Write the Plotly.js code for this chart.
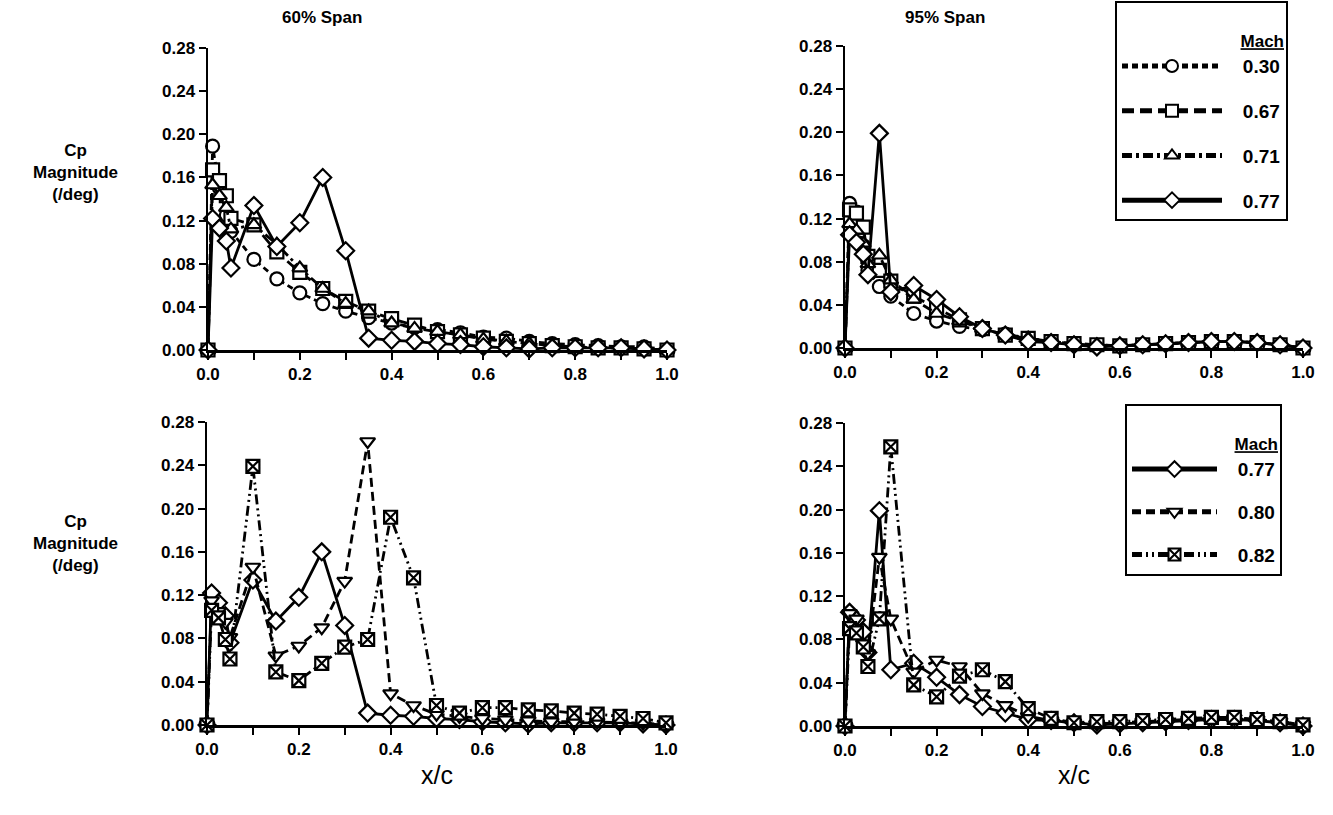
<!DOCTYPE html>
<html>
<head>
<meta charset="utf-8">
<script src="https://cdn.plot.ly/plotly-3.0.1.min.js"></script>
<style>html,body{margin:0;padding:0;background:#fff;}#chart{width:1333px;height:815px;}</style>
</head>
<body>
<div id="chart"></div>
<script>
// x/c stations
const x60 = [0, 0.01, 0.025, 0.04, 0.05, 0.1, 0.15, 0.2, 0.25, 0.3, 0.35, 0.4, 0.45, 0.5, 0.55, 0.6, 0.65, 0.7, 0.75, 0.8, 0.85, 0.9, 0.95, 1.0];
const x95 = [0, 0.01, 0.025, 0.04, 0.05, 0.075, 0.1, 0.15, 0.2, 0.25, 0.3, 0.35, 0.4, 0.45, 0.5, 0.55, 0.6, 0.65, 0.7, 0.75, 0.8, 0.85, 0.9, 0.95, 1.0];

// 60% span Cp magnitude (/deg)
const cp60_030 = [0, 0.189, 0.150, 0.125, 0.110, 0.084, 0.066, 0.053, 0.043, 0.036, 0.030, 0.025, 0.021, 0.019, 0.016, 0.012, 0.011, 0.008, 0.006, 0.005, 0.004, 0.003, 0.003, 0.000];
const cp60_067 = [0, 0.167, 0.157, 0.143, 0.122, 0.116, 0.091, 0.072, 0.057, 0.045, 0.036, 0.029, 0.023, 0.017, 0.014, 0.011, 0.008, 0.006, 0.004, 0.003, 0.002, 0.002, 0.001, 0.000];
const cp60_071 = [0, 0.153, 0.143, 0.132, 0.112, 0.116, 0.098, 0.076, 0.057, 0.043, 0.036, 0.025, 0.020, 0.017, 0.014, 0.010, 0.008, 0.006, 0.004, 0.003, 0.002, 0.002, 0.001, 0.000];
const cp60_077 = [0, 0.122, 0.113, 0.101, 0.076, 0.134, 0.096, 0.118, 0.160, 0.092, 0.011, 0.009, 0.008, 0.006, 0.005, 0.003, 0.002, 0.001, 0.002, 0.002, 0.002, 0.002, 0.001, 0.000];
const cp60_080 = [0, 0.115, 0.105, 0.095, 0.081, 0.146, 0.064, 0.073, 0.090, 0.133, 0.262, 0.029, 0.018, 0.010, 0.008, 0.006, 0.005, 0.004, 0.003, 0.003, 0.003, 0.002, 0.002, 0.000];
const cp60_082 = [0, 0.106, 0.099, 0.079, 0.061, 0.239, 0.049, 0.041, 0.057, 0.072, 0.079, 0.192, 0.136, 0.018, 0.011, 0.016, 0.016, 0.014, 0.013, 0.011, 0.010, 0.008, 0.006, 0.002];

// 95% span Cp magnitude (/deg)
const cp95_030 = [0, 0.134, 0.126, 0.095, 0.072, 0.057, 0.048, 0.032, 0.025, 0.020, 0.017, 0.013, 0.009, 0.006, 0.004, 0.002, 0.002, 0.003, 0.004, 0.005, 0.006, 0.006, 0.005, 0.003, 0.000];
const cp95_067 = [0, 0.128, 0.125, 0.112, 0.085, 0.072, 0.062, 0.048, 0.037, 0.026, 0.018, 0.012, 0.009, 0.006, 0.004, 0.003, 0.002, 0.003, 0.004, 0.005, 0.006, 0.006, 0.005, 0.003, 0.000];
const cp95_071 = [0, 0.115, 0.109, 0.097, 0.078, 0.086, 0.063, 0.045, 0.032, 0.025, 0.018, 0.012, 0.009, 0.006, 0.004, 0.003, 0.002, 0.003, 0.004, 0.005, 0.006, 0.006, 0.005, 0.003, 0.000];
const cp95_077 = [0, 0.105, 0.098, 0.087, 0.068, 0.199, 0.052, 0.058, 0.045, 0.029, 0.018, 0.012, 0.006, 0.005, 0.003, 0.001, 0.002, 0.003, 0.004, 0.005, 0.006, 0.006, 0.005, 0.003, 0.000];
const cp95_080 = [0, 0.104, 0.099, 0.076, 0.067, 0.156, 0.099, 0.050, 0.061, 0.055, 0.030, 0.019, 0.009, 0.005, 0.003, 0.002, 0.003, 0.004, 0.005, 0.006, 0.007, 0.007, 0.006, 0.004, 0.001];
const cp95_082 = [0, 0.090, 0.086, 0.073, 0.055, 0.099, 0.258, 0.038, 0.027, 0.046, 0.052, 0.041, 0.016, 0.007, 0.003, 0.004, 0.004, 0.005, 0.006, 0.007, 0.008, 0.008, 0.006, 0.004, 0.001];

const panelTitles = ["60% Span", "95% Span"];
const yTitle = "Cp<br>Magnitude<br>(/deg)";
const xTitle = "x/c";
const legendTitle = "Mach";

const FONT = "Liberation Sans, Arial, Helvetica, sans-serif";

const styles = {
  "0.30": {symbol: "circle", dash: "6px,4px"},
  "0.67": {symbol: "square", dash: "12px,6px"},
  "0.71": {symbol: "triangle-up", dash: "10px,4px,3px,4px"},
  "0.77": {symbol: "diamond", dash: "solid"},
  "0.80": {symbol: "triangle-down", dash: "9px,5px"},
  "0.82": {symbol: "square-x", dash: "10px,4px,2px,4px,2px,4px"}
};

const NB = "\u00A0";
function tr(x, y, mach, xa, ya, legend, show) {
  const s = styles[mach];
  return {
    type: "scatter", mode: "lines+markers", x: x, y: y,
    xaxis: xa, yaxis: ya, name: NB.repeat(3) + mach, legend: legend,
    legendgroup: legend + mach, showlegend: show, cliponaxis: false,
    line: {color: "#000", width: 2.8, dash: s.dash},
    marker: {symbol: s.symbol, size: 13, color: "#fff", line: {color: "#000", width: 2.2}}
  };
}

const data = [
  tr(x60, cp60_030, "0.30", "x", "y", "legend", false),
  tr(x60, cp60_067, "0.67", "x", "y", "legend", false),
  tr(x60, cp60_071, "0.71", "x", "y", "legend", false),
  tr(x60, cp60_077, "0.77", "x", "y", "legend", false),
  tr(x95, cp95_030, "0.30", "x2", "y2", "legend", true),
  tr(x95, cp95_067, "0.67", "x2", "y2", "legend", true),
  tr(x95, cp95_071, "0.71", "x2", "y2", "legend", true),
  tr(x95, cp95_077, "0.77", "x2", "y2", "legend", true),
  tr(x60, cp60_077, "0.77", "x3", "y3", "legend2", false),
  tr(x60, cp60_080, "0.80", "x3", "y3", "legend2", false),
  tr(x60, cp60_082, "0.82", "x3", "y3", "legend2", false),
  tr(x95, cp95_077, "0.77", "x4", "y4", "legend2", true),
  tr(x95, cp95_080, "0.80", "x4", "y4", "legend2", true),
  tr(x95, cp95_082, "0.82", "x4", "y4", "legend2", true)
];

const W = 1333, H = 815;
function px(a, b) { return [a / W, b / W]; }
function py(top, bottom) { return [1 - bottom / H, 1 - top / H]; }

function xax(dom, anchor) {
  return {
    domain: dom, anchor: anchor, range: [0, 1.0], dtick: 0.2, tick0: 0,
    tickformat: ".1f", showgrid: false, zeroline: false,
    showline: true, linecolor: "#000", linewidth: 2.5,
    ticks: "outside", ticklen: 7, tickwidth: 2, tickcolor: "#000",
    minor: {dtick: 0.1, ticks: "outside", ticklen: 7, tickwidth: 2, tickcolor: "#000"},
    tickfont: {family: FONT, size: 17, weight: "bold", color: "#000"}
  };
}
function yax(dom, anchor) {
  return {
    domain: dom, anchor: anchor, range: [0, 0.28], dtick: 0.04, tick0: 0,
    tickformat: ".2f", showgrid: false, zeroline: false,
    showline: true, linecolor: "#000", linewidth: 2.5,
    ticks: "outside", ticklen: 7, tickwidth: 2, tickcolor: "#000",
    tickfont: {family: FONT, size: 17, weight: "bold", color: "#000"}
  };
}

function leg(x, y, gap, iw) {
  return {
    x: x, y: y, xanchor: "left", yanchor: "top",
    bgcolor: "#fff", bordercolor: "#000", borderwidth: 2,
    font: {family: FONT, size: 19, weight: "bold", color: "#000"},
    title: {text: "<br><u>" + legendTitle + "</u>", side: "top right", font: {family: FONT, size: 17, weight: "bold"}},
    tracegroupgap: gap, itemsizing: "constant", itemwidth: iw
  };
}

const annFont = {family: FONT, size: 17, weight: "bold", color: "#000"};
const layout = {
  width: W, height: H, margin: {l: 0, r: 0, t: 0, b: 0},
  paper_bgcolor: "#fff", plot_bgcolor: "#fff",
  font: {family: FONT, color: "#000"},
  xaxis: xax(px(208, 667), "y"),
  yaxis: yax(py(48, 350), "x"),
  xaxis2: xax(px(845, 1303), "y2"),
  yaxis2: yax(py(46, 348), "x2"),
  xaxis3: xax(px(207, 666), "y3"),
  yaxis3: yax(py(422, 725), "x3"),
  xaxis4: xax(px(845, 1303), "y4"),
  yaxis4: yax(py(423, 726), "x4"),
  legend: leg(1115 / W, 1 - 1 / H, 17, 100),
  legend2: leg(1125 / W, 1 - 404 / H, 15, 85),
  annotations: [
    {text: panelTitles[0], xref: "paper", yref: "paper", x: 322 / W, y: 1 - 18 / H, showarrow: false, xanchor: "center", yanchor: "middle", font: annFont},
    {text: panelTitles[1], xref: "paper", yref: "paper", x: 945 / W, y: 1 - 18 / H, showarrow: false, xanchor: "center", yanchor: "middle", font: annFont},
    {text: yTitle, xref: "paper", yref: "paper", x: 75 / W, y: 1 - 172 / H, showarrow: false, xanchor: "center", yanchor: "middle", font: annFont},
    {text: yTitle, xref: "paper", yref: "paper", x: 75 / W, y: 1 - 543 / H, showarrow: false, xanchor: "center", yanchor: "middle", font: annFont},
    {text: xTitle, xref: "paper", yref: "paper", x: 437 / W, y: 1 - 775 / H, showarrow: false, xanchor: "center", yanchor: "middle", font: {family: FONT, size: 25, color: "#000"}},
    {text: xTitle, xref: "paper", yref: "paper", x: 1074 / W, y: 1 - 775 / H, showarrow: false, xanchor: "center", yanchor: "middle", font: {family: FONT, size: 25, color: "#000"}}
  ],
  showlegend: true
};

Plotly.newPlot("chart", data, layout, {displayModeBar: false, staticPlot: true});
</script>
</body>
</html>
